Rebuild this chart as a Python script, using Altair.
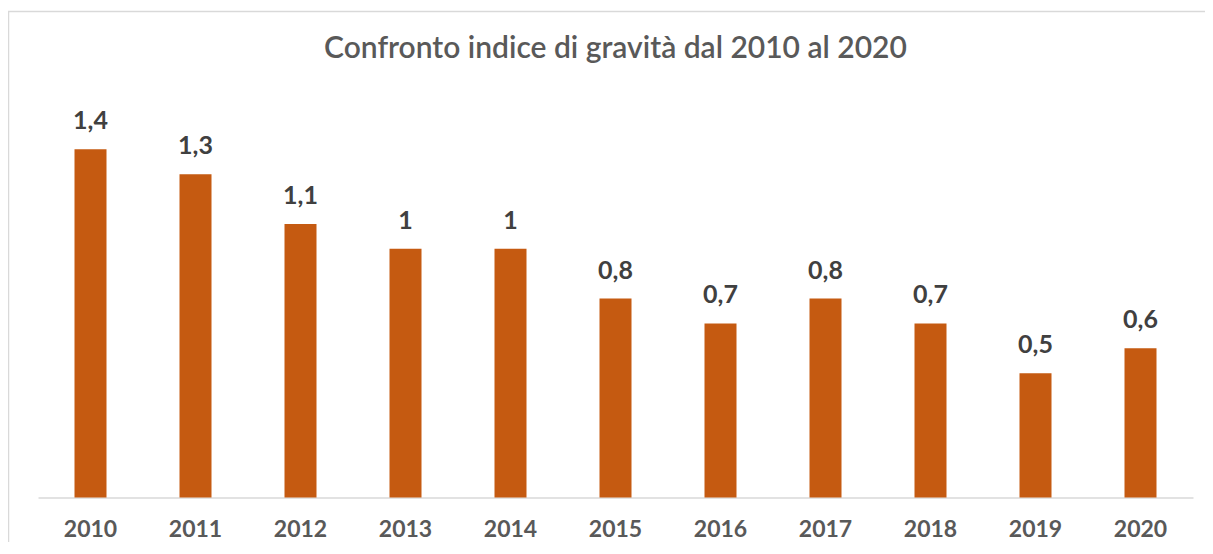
import altair as alt
import pandas as pd

anni = ["2010", "2011", "2012", "2013", "2014", "2015", "2016", "2017", "2018", "2019", "2020"]
indice = [1.4, 1.3, 1.1, 1.0, 1.0, 0.8, 0.7, 0.8, 0.7, 0.5, 0.6]
titolo = ["Confronto indice di gravità dal 2010 al 2020"]

df = pd.DataFrame({"anno": anni, "indice": indice})

FONT = "Lato"

base = alt.Chart(df).encode(
    x=alt.X("anno:N", sort=anni, title=None,
            scale=alt.Scale(paddingInner=0, paddingOuter=0),
            axis=alt.Axis(labelAngle=0, labelFont=FONT, labelFontSize=23,
                          labelFontWeight="bold", labelColor="#595959",
                          labelPadding=21, ticks=False, domainColor="#d9d9d9",
                          domainWidth=1.5, grid=False)),
    y=alt.Y("indice:Q", title=None, scale=alt.Scale(domain=[0, 1.6]), axis=None),
)

bars = base.mark_bar(color="#C55A11", width=32)

labels = base.transform_calculate(
    lab="replace(format(datum.indice, '.1~f'), '.', ',')"
).mark_text(font=FONT, fontSize=25, fontWeight="bold", color="#404040",
            baseline="alphabetic", dy=-20).encode(text="lab:N")

frame = alt.Chart(pd.DataFrame({"k": [0]})).mark_rect(
    fill=None, stroke="#d9d9d9", strokeWidth=1.5
).encode(x=alt.value(-29.5), x2=alt.value(1190), y=alt.value(-88), y2=alt.value(470))

title = alt.Chart(pd.DataFrame({"t": titolo})).mark_text(
    font=FONT, fontSize=30, fontWeight=600, color="#595959",
    align="center", baseline="alphabetic"
).encode(text="t:N", x=alt.value(577.5), y=alt.value(-41.5))

chart = alt.layer(frame, bars, labels, title).properties(
    width=1155, height=398,
    autosize=alt.AutoSizeParams(type="none"),
    padding={"left": 30, "top": 91.5, "right": 12, "bottom": 44.5},
).configure_view(stroke=None)

chart.save("out.html", embed_options={"renderer": "svg", "actions": False})
